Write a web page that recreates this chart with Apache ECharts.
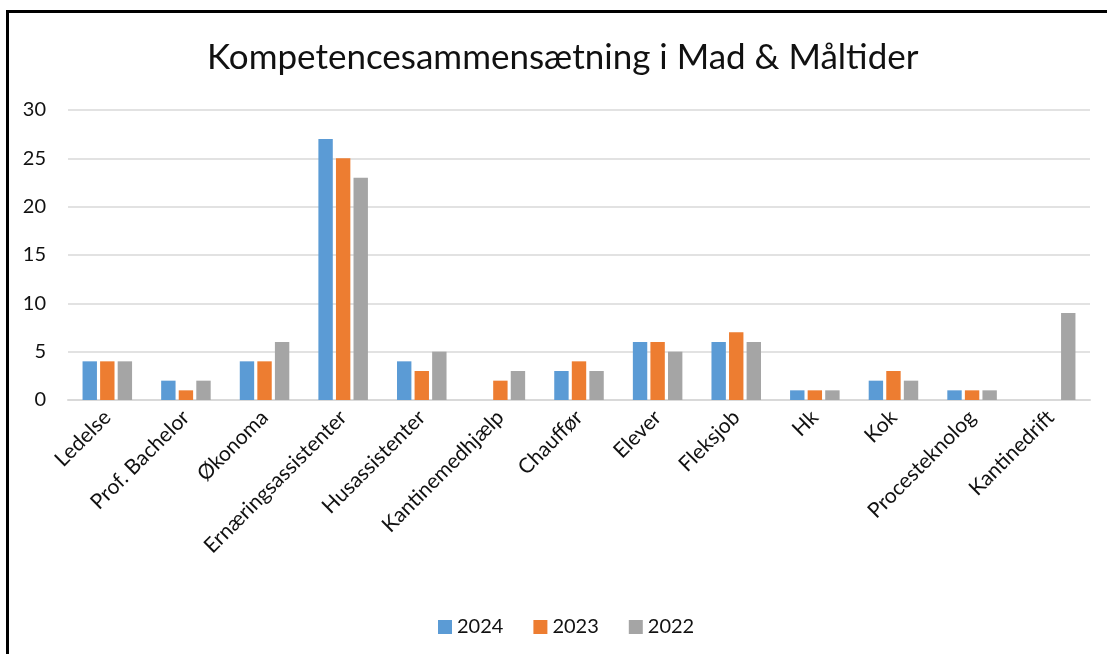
<!DOCTYPE html>
<html>
<head>
<meta charset="utf-8">
<script src="https://cdn.jsdelivr.net/npm/echarts@6/dist/echarts.min.js"></script>
<style>
    html, body { margin: 0; padding: 0; background: #fff; }
    #frame {
        position: absolute; left: 6px; top: 10px; width: 1120px; height: 680px;
        border: 3px solid #000; box-sizing: border-box;
    }
    #chart { position: absolute; left: 0; top: 0; width: 1107px; height: 654px; }
</style>
</head>
<body>
<div id="frame"></div>
<div id="chart"></div>
<script>
const categories = ['Ledelse', 'Prof. Bachelor', 'Økonoma', 'Ernæringsassistenter', 'Husassistenter',
    'Kantinemedhjælp', 'Chauffør', 'Elever', 'Fleksjob', 'Hk', 'Kok', 'Procesteknolog', 'Kantinedrift']
const y2024 = [4, 2, 4, 27, 4, 0, 3, 6, 6, 1, 2, 1, 0]
const y2023 = [4, 1, 4, 25, 3, 2, 4, 6, 7, 1, 3, 1, 0]
const y2022 = [4, 2, 6, 23, 5, 3, 3, 5, 6, 1, 2, 1, 9]

const font = 'Lato, "Open Sans", sans-serif'
let myEchart = echarts.init(document.getElementById('chart'))

const bar = (name, data, color) => ({
    name: name,
    type: 'bar',
    data: data,
    itemStyle: { color: color },
    barGap: '22%',
    barCategoryGap: '37%',
    animation: false
})

myEchart.setOption({
    backgroundColor: 'transparent',
    title: {
        text: 'Kompetencesammensætning i Mad & Måltider',
        left: 202,
        top: 35,
        textStyle: { fontFamily: font, fontSize: 35, fontWeight: 'normal', color: '#111' }
    },
    legend: {
        bottom: 12,
        left: 433,
        itemWidth: 14,
        itemHeight: 14,
        itemGap: 30,
        icon: 'rect',
        textStyle: { fontFamily: font, fontSize: 20, color: '#111' },
        data: ['2024', '2023', '2022']
    },
    grid: { left: 68, right: 17, top: 110, bottom: 254 },
    xAxis: {
        type: 'category',
        data: categories,
        axisLine: { lineStyle: { color: '#d9d9d9', width: 2 } },
        axisTick: { show: false },
        axisLabel: {
            interval: 0,
            rotate: 45,
            margin: 14,
            fontFamily: font,
            fontSize: 21,
            color: '#111'
        }
    },
    yAxis: {
        type: 'value',
        min: 0,
        max: 30,
        interval: 5,
        axisLine: { show: false },
        axisTick: { show: false },
        splitLine: { lineStyle: { color: '#d9d9d9', width: 1.5 } },
        axisLabel: { fontFamily: font, fontSize: 20, color: '#111', margin: 22 }
    },
    series: [
        bar('2024', y2024, '#5b9bd5'),
        bar('2023', y2023, '#ed7d31'),
        bar('2022', y2022, '#a5a5a5')
    ]
})
</script>
</body>
</html>
